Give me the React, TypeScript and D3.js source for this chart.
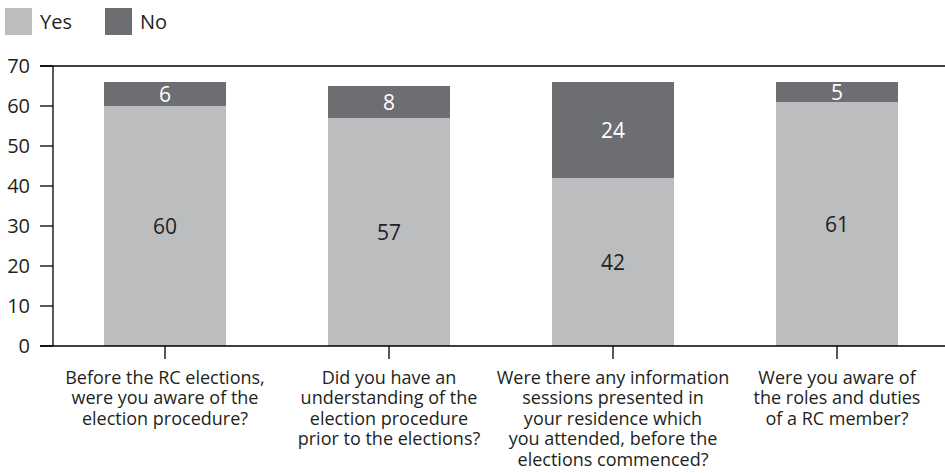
import React from "react";
import * as d3 from "d3";

const categories: string[][] = [
  ["Before the RC elections,", "were you aware of the", "election procedure?"],
  ["Did you have an", "understanding of the", "election procedure", "prior to the elections?"],
  ["Were there any information", "sessions presented in", "your residence which", "you attended, before the", "elections commenced?"],
  ["Were you aware of", "the roles and duties", "of a RC member?"],
];
const yesValues = [60, 57, 42, 61];
const noValues = [6, 8, 24, 5];
const yTicks = [0, 10, 20, 30, 40, 50, 60, 70];

const W = 945;
const H = 473;
const YES_COLOR = "#bcbdbf";
const NO_COLOR = "#6d6e71";
const TEXT = "#231f20";
const FONT = "'Open Sans', sans-serif";

export default function App() {
  const left = 53;
  const right = 949;
  const top = 66;
  const bottom = 346;
  const idx = categories.map((_, i) => String(i));
  const pInner = 102 / 224;
  const x = d3.scaleBand<string>().domain(idx).range([left, right]).paddingInner(pInner).paddingOuter(pInner / 2);
  const y = d3.scaleLinear().domain([0, 70]).range([bottom, top]);
  const bw = x.bandwidth();

  return (
    <svg width={W} height={H} style={{ position: "absolute", left: 0, top: 0 }} fontFamily={FONT}>
      {/* legend */}
      <rect x={5} y={8} width={27} height={27} fill={YES_COLOR} />
      <text x={40} y={29} fontSize={20} fill={TEXT}>Yes</text>
      <rect x={105} y={8} width={27} height={27} fill={NO_COLOR} />
      <text x={140} y={29} fontSize={20} fill={TEXT}>No</text>

      {/* bars */}
      {idx.map((k, i) => {
        const x0 = x(k)!;
        const yes = yesValues[i];
        const no = noValues[i];
        return (
          <g key={k}>
            <rect x={x0} y={y(yes)} width={bw} height={y(0) - y(yes)} fill={YES_COLOR} />
            <rect x={x0} y={y(yes + no)} width={bw} height={y(yes) - y(yes + no)} fill={NO_COLOR} />
            <text x={x0 + bw / 2} y={y(yes / 2)} dy="0.36em" textAnchor="middle" fontSize={21} fill={TEXT}>{yes}</text>
            <text x={x0 + bw / 2} y={y(yes + no / 2)} dy="0.36em" textAnchor="middle" fontSize={21} fill="#ffffff">{no}</text>
          </g>
        );
      })}

      {/* y axis */}
      <line x1={left} x2={left} y1={top} y2={bottom} stroke="#000" strokeWidth={1.3} />
      {yTicks.map((t) => (
        <g key={t}>
          <line x1={40} x2={left} y1={y(t)} y2={y(t)} stroke="#000" strokeWidth={1.3} />
          <text x={30} y={y(t)} dy="0.36em" textAnchor="end" fontSize={20} fill={TEXT}>{t}</text>
        </g>
      ))}
      <line x1={40} x2={W} y1={y(70)} y2={y(70)} stroke="#000" strokeWidth={1.3} />
      <line x1={40} x2={W} y1={y(0)} y2={y(0)} stroke="#000" strokeWidth={1.3} />

      {/* x axis ticks & labels */}
      {idx.map((k, i) => {
        const cx = x(k)! + bw / 2;
        return (
          <g key={"x" + k}>
            <line x1={cx} x2={cx} y1={bottom} y2={bottom + 13} stroke="#000" strokeWidth={1.3} />
            <text textAnchor="middle" fontSize={18} fill={TEXT}>
              {categories[i].map((line, j) => (
                <tspan key={j} x={cx} y={384 + j * 20.4}>{line}</tspan>
              ))}
            </text>
          </g>
        );
      })}
    </svg>
  );
}
